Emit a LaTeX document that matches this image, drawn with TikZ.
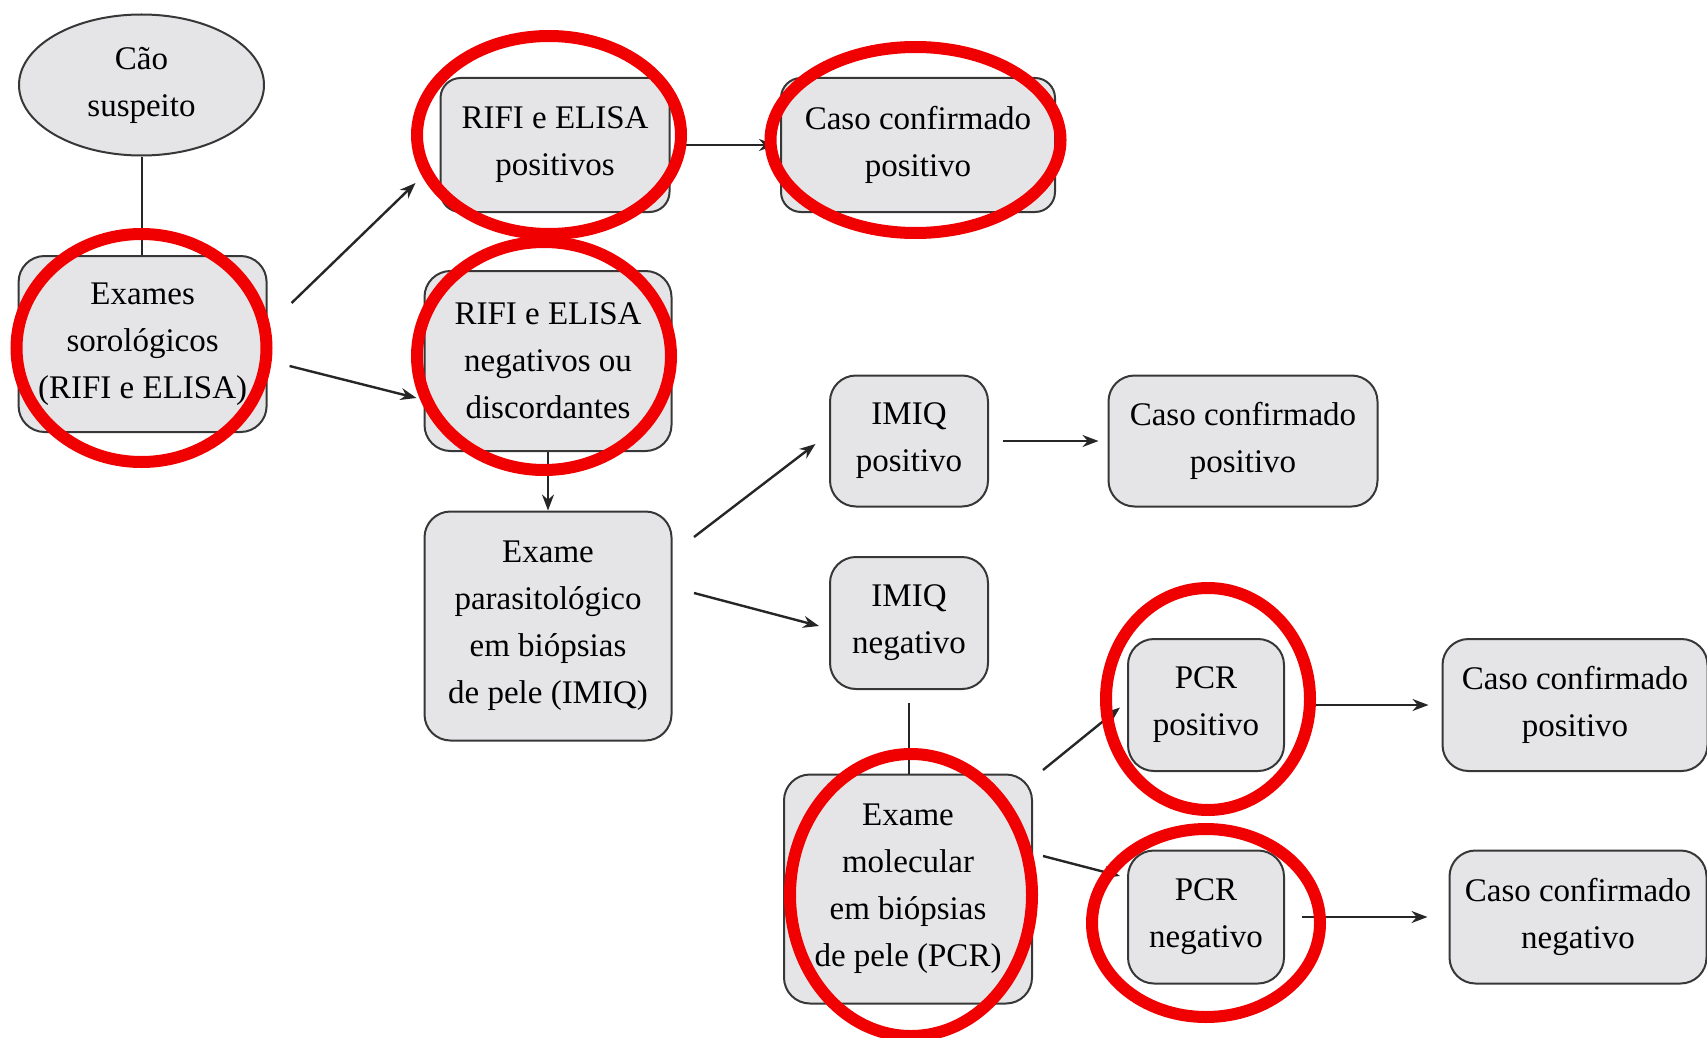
\documentclass[tikz,border=0pt]{standalone}
\usepackage{fontspec}
\setmainfont{Liberation Serif}
\usetikzlibrary{arrows.meta,calc,shapes.geometric}
\definecolor{boxfill}{RGB}{229,229,231}
\definecolor{markred}{RGB}{240,0,0}
\definecolor{edge}{RGB}{55,55,55}
\begin{document}
\begin{tikzpicture}[x=1pt,y=-1pt,
  txt/.style={align=center, inner sep=0pt, font=\fontsize{33}{47}\selectfont},
  box/.style={txt, draw=edge, line width=2pt, fill=boxfill, rounded corners=26pt},
  oval/.style={txt, draw=edge, line width=2pt, fill=boxfill, ellipse},
  arr/.style={draw=black!85, line width=2.4pt, -{Stealth[length=16pt,width=12pt]}},
  ln/.style={draw=black!85, line width=2pt},
  hl/.style={draw=markred, line width=12pt}]
\useasboundingbox (0,0) rectangle (1707,1038);

% nodes
\node[oval, minimum width=245pt, minimum height=141pt] (cao) at (141.5,85) {Cão\\suspeito};
\node[box, minimum width=248pt, minimum height=176pt] (ex) at (142.6,344) {Exames\\sorológicos\\(RIFI e ELISA)};
\node[box, minimum width=229pt, minimum height=134pt, rounded corners=20pt] (rp) at (555,145) {RIFI e ELISA\\positivos};
\node[box, minimum width=274pt, minimum height=134pt, rounded corners=20pt] (c1) at (918,145) {Caso confirmado\\positivo};
\node[box, minimum width=247pt, minimum height=180pt] (rn) at (548,361) {RIFI e ELISA\\negativos ou\\discordantes};
\node[box, minimum width=247pt, minimum height=229pt] (pa) at (548,626) {Exame\\parasitológico\\em biópsias\\de pele (IMIQ)};
\node[box, minimum width=158pt, minimum height=131pt] (ip) at (909,441) {IMIQ\\positivo};
\node[box, minimum width=269pt, minimum height=131pt] (c2) at (1243,441) {Caso confirmado\\positivo};
\node[box, minimum width=158pt, minimum height=132pt] (in) at (909,623) {IMIQ\\negativo};
\node[box, minimum width=248pt, minimum height=229pt] (mo) at (908,889) {Exame\\molecular\\em biópsias\\de pele (PCR)};
\node[box, minimum width=156pt, minimum height=132pt] (pp) at (1206,705) {PCR\\positivo};
\node[box, minimum width=265pt, minimum height=132pt] (c3) at (1575,705) {Caso confirmado\\positivo};
\node[box, minimum width=156pt, minimum height=133pt] (pn) at (1206,917) {PCR\\negativo};
\node[box, minimum width=257pt, minimum height=133pt] (c4) at (1578,917) {Caso confirmado\\negativo};

% connectors
\draw[ln] (cao.south) -- (cao.south |- ex.north);
\draw[arr] ($(ex.east)+(24,-41)$) -- ($(rp.west)+(-24,38)$);
\draw[arr] ($(ex.east)+(22,22)$) -- ($(rn.west)+(-7,37)$);
\draw[arr, shorten <=13pt, shorten >=5pt] (rp.east) -- (c1.west);
\draw[arr] (rn.south) -- (pa.north);
\draw[arr] ($(pa.east)+(21.5,-89)$) -- ($(ip.west)+(-13.5,3)$);
\draw[arr] ($(pa.east)+(21.5,-33)$) -- ($(in.west)+(-10,3)$);
\draw[arr, shorten <=13.5pt, shorten >=9pt] (ip.east) -- (c2.west);
\draw[ln, shorten <=13pt] (in.south) -- (in.south |- mo.north);
\draw[arr] ($(mo.east)+(10,-119)$) -- ($(pp.west)+(-7,2.5)$);
\draw[arr] ($(mo.east)+(10,-33)$) -- ($(pn.west)+(-7,-41)$);
\draw[arr, shorten <=30pt, shorten >=13pt] (pp.east) -- (c3.west);
\draw[arr, shorten <=17pt, shorten >=21pt] (pn.east) -- (c4.west);

% red highlight ellipses
\draw[hl] (141.5,348) ellipse [x radius=125, y radius=114];
\draw[hl] (549,135) ellipse [x radius=132, y radius=99];
\draw[hl] (544,356) ellipse [x radius=127, y radius=114];
\draw[hl] (915.5,140) ellipse [x radius=145, y radius=93];
\draw[hl] (1208,699) ellipse [x radius=102, y radius=111];
\draw[hl] (1206,923) ellipse [x radius=114, y radius=94];
\draw[hl] (911,895) ellipse [x radius=121, y radius=141];
\end{tikzpicture}
\end{document}
